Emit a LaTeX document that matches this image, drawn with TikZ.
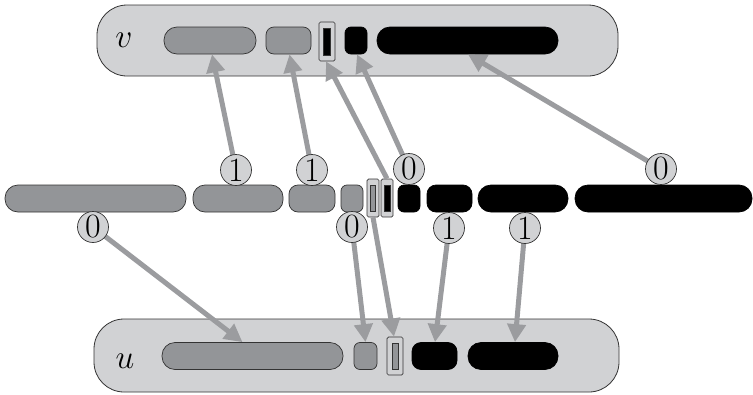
\documentclass[tikz,border=0pt]{standalone}
\usepackage{fontspec}
\usetikzlibrary{arrows.meta}
\definecolor{lightbg}{HTML}{D1D2D4}
\definecolor{seggray}{HTML}{939598}
\definecolor{arrgray}{HTML}{9B9C9F}
\definecolor{edgec}{HTML}{333333}
\newcommand{\labfont}{\fontsize{34}{34}\selectfont}
\newcommand{\setfont}{\fontsize{24.88}{25}\selectfont}
\begin{document}
\begin{tikzpicture}[x=1pt,y=-1pt,
  container/.style={draw=edgec,line width=0.8pt,fill=lightbg,rounded corners=30pt,minimum height=#1,inner sep=0pt},
  gseg/.style={draw=edgec,line width=0.7pt,fill=seggray,minimum height=27pt,inner sep=0pt,rounded corners=#1},
  bseg/.style={draw=black,line width=0.7pt,fill=black,minimum height=27pt,inner sep=0pt,rounded corners=#1},
  fbox/.style={draw=edgec,line width=0.7pt,fill=lightbg,minimum width=13pt,minimum height=38pt,inner sep=0pt,rounded corners=1.5pt},
  innerbar/.style={draw=edgec,line width=0.6pt,fill=#1,minimum width=6pt,minimum height=26pt,inner sep=0pt},
  lab/.style={circle,draw=edgec,line width=0.7pt,fill=lightbg,minimum size=31pt,inner sep=0pt,font=\labfont},
  arr/.style={draw=arrgray,line width=5pt,-{Triangle[length=18pt,width=18pt]}},
  setname/.style={font=\setfont,scale=1.35,inner sep=0pt}
]
\useasboundingbox (0,0) rectangle (753,394);
% containers
\node[container=71pt,minimum width=521pt] (V) at (357.5,40.5) {};
\node[container=73pt,minimum width=525pt] (U) at (356.5,355.5) {};
\node[setname] (vl) at (124,40) {$v$};
\node[setname] (ul) at (125,361) {$u$};
% top segments
\node[gseg=13pt,minimum width=92pt] (t1) at (210,40.5) {};
\node[gseg=8pt,minimum width=45pt] (t2) at (288.5,40.5) {};
\node[fbox,minimum width=16pt,minimum height=39pt] (t3) at (327,41.5) {};
\node[innerbar=black,minimum width=7pt,minimum height=27pt] (t3i) at (327,41.5) {};
\node[bseg=6pt,minimum width=22pt] (t4) at (356,40.5) {};
\node[bseg=13pt,minimum width=181pt] (t5) at (467.5,40.5) {};
% middle segments
\node[gseg=13pt,minimum width=181pt] (m1) at (95.5,198.5) {};
\node[gseg=12pt,minimum width=90pt] (m2) at (238,198.5) {};
\node[gseg=9pt,minimum width=46pt] (m3) at (312,198.5) {};
\node[gseg=6pt,minimum width=22pt] (m4) at (352,198.5) {};
\node[fbox,minimum width=12pt] (m5) at (373,198) {};
\node[innerbar=seggray,minimum width=5pt] (m5i) at (373,198) {};
\node[fbox,minimum width=12pt] (m6) at (387,198) {};
\node[innerbar=black,minimum width=6pt] (m6i) at (387,198) {};
\node[bseg=6pt,minimum width=22pt] (m7) at (409,198.5) {};
\node[bseg=9pt,minimum width=45pt] (m8) at (449.5,198.5) {};
\node[bseg=13pt,minimum width=90pt] (m9) at (523,198.5) {};
\node[bseg=13pt,minimum width=177pt] (m10) at (663.5,198.5) {};
% bottom segments
\node[gseg=13pt,minimum width=181pt] (b1) at (252.5,356) {};
\node[gseg=6pt,minimum width=23pt] (b2) at (365.5,356) {};
\node[fbox,minimum width=16pt] (b3) at (395,356) {};
\node[innerbar=seggray,minimum width=6pt] (b3i) at (395,356) {};
\node[bseg=9pt,minimum width=45pt] (b4) at (434.5,356) {};
\node[bseg=13pt,minimum width=90pt] (b5) at (513,356) {};
% label positions
\coordinate (p1) at (236,170);
\coordinate (p2) at (312,170);
\coordinate (p3) at (409,169);
\coordinate (p4) at (661,169);
\coordinate (p5) at (93,227);
\coordinate (p6) at (352,227);
\coordinate (p7) at (449,228);
\coordinate (p8) at (525,228);
% arrows
\draw[arr] (p1) -- ([xshift=2pt]t1.south);
\draw[arr] (p2) -- ([xshift=1pt]t2.south);
\draw[arr] (p3) -- ([xshift=1pt]t4.south);
\draw[arr] (p4) -- ([xshift=0.5pt]t5.south);
\draw[arr] (m6.north) -- ([xshift=-1pt]t3.south);
\draw[arr] (p5) -- ([xshift=-10pt]b1.north);
\draw[arr] (p6) -- (b2.north);
\draw[arr] (m5.south) -- ([xshift=-1pt]b3.north);
\draw[arr] (p7) -- ([xshift=0.5pt]b4.north);
\draw[arr] (p8) -- ([xshift=2pt]b5.north);
% labels
\node[lab] (l1) at (p1) {1};
\node[lab] (l2) at (p2) {1};
\node[lab] (l3) at (p3) {0};
\node[lab] (l4) at (p4) {0};
\node[lab] (l5) at (p5) {0};
\node[lab] (l6) at (p6) {0};
\node[lab] (l7) at (p7) {1};
\node[lab] (l8) at (p8) {1};
\end{tikzpicture}
\end{document}
